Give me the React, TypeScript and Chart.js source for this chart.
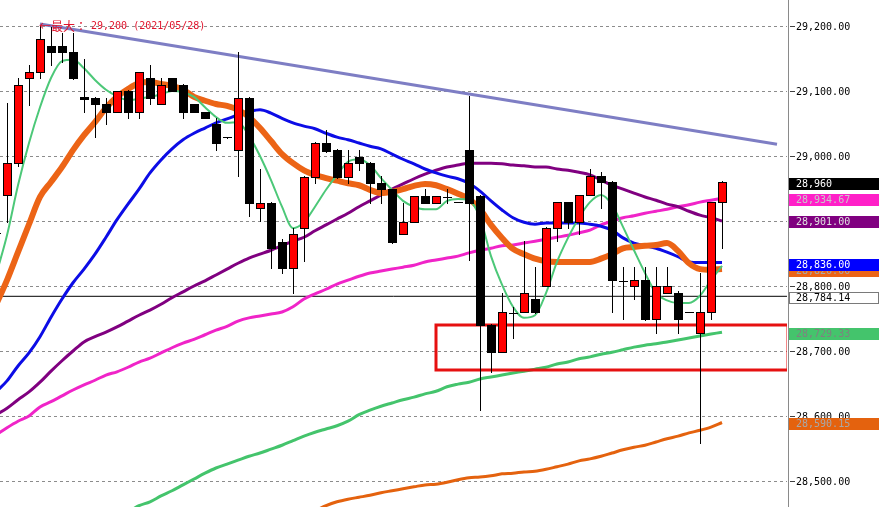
import React, { useEffect, useRef } from 'react';
import { Chart, registerables } from 'chart.js';

Chart.register(...registerables);

// ---------- data (index 0 is the bar cut off at the left edge) ----------
const opens = [28882, 28940, 28989, 29120, 29129, 29169, 29169, 29160, 29090, 29089, 29080, 29068, 29100, 29068, 29120, 29080, 29120, 29109, 29080, 29068, 29049, 29030, 29009, 29089, 28920, 28928, 28868, 28828, 28889, 28968, 29020, 29009, 28968, 28999, 28989, 28959, 28949, 28880, 28899, 28938, 28928, 28938, 28930, 29009, 28938, 28740, 28699, 28760, 28760, 28780, 28800, 28889, 28929, 28899, 28940, 28969, 28960, 28809, 28800, 28809, 28749, 28790, 28790, 28760, 28728, 28760, 28929];
const highs = [28890, 29081, 29120, 29140, 29200, 29198, 29189, 29189, 29149, 29090, 29089, 29100, 29102, 29130, 29140, 29120, 29120, 29110, 29080, 29068, 29059, 29030, 29160, 29090, 28980, 28930, 28872, 28889, 28970, 29022, 29040, 29010, 29009, 29009, 28990, 28969, 28950, 28928, 28938, 28949, 28938, 28949, 28930, 29092, 28940, 28742, 28790, 28768, 28869, 28830, 28890, 28930, 28930, 28940, 28980, 28975, 28962, 28830, 28830, 28830, 28830, 28830, 28792, 28760, 28820, 28930, 28962];
const lows = [28875, 28899, 28985, 29078, 29120, 29140, 29145, 29118, 29068, 29029, 29049, 29068, 29059, 29059, 29080, 29080, 29100, 29059, 29068, 29059, 29009, 29028, 28969, 28908, 28900, 28828, 28820, 28789, 28838, 28959, 29006, 28966, 28959, 28978, 28928, 28928, 28866, 28880, 28899, 28928, 28928, 28928, 28930, 28840, 28609, 28668, 28699, 28720, 28760, 28758, 28800, 28869, 28889, 28880, 28940, 28920, 28760, 28749, 28780, 28748, 28728, 28790, 28728, 28760, 28559, 28749, 28859];
const closes = [28882, 28989, 29109, 29129, 29180, 29160, 29160, 29120, 29088, 29080, 29068, 29100, 29068, 29129, 29089, 29109, 29100, 29068, 29068, 29059, 29020, 29029, 29089, 28928, 28928, 28859, 28828, 28880, 28968, 29020, 29008, 28968, 28989, 28989, 28959, 28949, 28868, 28899, 28938, 28928, 28938, 28937, 28930, 28928, 28740, 28699, 28760, 28759, 28789, 28760, 28889, 28929, 28899, 28940, 28969, 28960, 28809, 28808, 28809, 28749, 28800, 28800, 28749, 28760, 28760, 28929, 28960];

const maShort = [28817, 28878, 28955, 29020, 29075, 29120, 29146, 29148, 29135, 29117, 29102, 29092, 29086, 29088, 29091, 29095, 29100, 29098, 29091, 29075, 29060, 29051, 29052, 29031, 29000, 28963, 28922, 28889, 28898, 28922, 28948, 28971, 28991, 28995, 28986, 28966, 28948, 28931, 28922, 28918, 28918, 28931, 28934, 28932, 28905, 28846, 28802, 28768, 28751, 28755, 28789, 28837, 28874, 28905, 28929, 28940, 28925, 28891, 28855, 28820, 28789, 28778, 28774, 28774, 28785, 28809, 28831];
const maOrange = [28771, 28809, 28852, 28895, 28937, 28960, 28983, 29009, 29032, 29052, 29074, 29091, 29103, 29112, 29114, 29111, 29108, 29102, 29091, 29085, 29080, 29077, 29071, 29060, 29043, 29023, 29003, 28989, 28978, 28971, 28966, 28962, 28958, 28955, 28948, 28943, 28945, 28949, 28954, 28957, 28955, 28949, 28942, 28934, 28918, 28894, 28874, 28857, 28849, 28842, 28838, 28837, 28837, 28837, 28837, 28842, 28849, 28858, 28860, 28862, 28863, 28866, 28854, 28835, 28826, 28825, 28826];
const maBlue = [28637, 28654, 28677, 28697, 28722, 28752, 28780, 28805, 28826, 28849, 28875, 28902, 28926, 28949, 28974, 28994, 29011, 29025, 29035, 29043, 29051, 29057, 29063, 29068, 29071, 29066, 29058, 29051, 29046, 29042, 29035, 29029, 29025, 29020, 29015, 29011, 29003, 28995, 28988, 28980, 28974, 28969, 28965, 28958, 28946, 28931, 28917, 28905, 28898, 28895, 28897, 28897, 28897, 28897, 28895, 28892, 28886, 28874, 28866, 28862, 28858, 28852, 28845, 28837, 28836, 28836, 28836];
const maPurple = [28602, 28612, 28625, 28637, 28652, 28669, 28685, 28700, 28714, 28722, 28729, 28737, 28746, 28755, 28763, 28772, 28782, 28791, 28800, 28808, 28817, 28826, 28835, 28843, 28849, 28855, 28862, 28869, 28875, 28885, 28894, 28903, 28912, 28922, 28931, 28940, 28949, 28957, 28965, 28972, 28978, 28983, 28986, 28989, 28989, 28989, 28988, 28986, 28985, 28983, 28983, 28980, 28978, 28975, 28971, 28963, 28955, 28949, 28943, 28937, 28932, 28926, 28922, 28915, 28909, 28905, 28900];
const maMagenta = [28571, 28582, 28592, 28600, 28614, 28622, 28631, 28640, 28648, 28655, 28663, 28668, 28675, 28683, 28689, 28697, 28705, 28712, 28718, 28725, 28732, 28738, 28746, 28751, 28754, 28757, 28760, 28768, 28780, 28788, 28795, 28803, 28809, 28815, 28820, 28823, 28826, 28829, 28832, 28837, 28840, 28843, 28846, 28851, 28855, 28858, 28862, 28863, 28866, 28869, 28872, 28875, 28878, 28882, 28886, 28894, 28900, 28905, 28908, 28912, 28915, 28918, 28922, 28925, 28929, 28932, 28935];
const maGreen = [null, null, null, null, null, null, null, null, null, null, null, null, 28452, 28462, 28468, 28477, 28485, 28494, 28503, 28512, 28520, 28526, 28532, 28538, 28543, 28549, 28555, 28562, 28569, 28575, 28580, 28585, 28592, 28602, 28609, 28615, 28620, 28625, 28629, 28634, 28638, 28645, 28649, 28652, 28657, 28660, 28663, 28666, 28669, 28672, 28675, 28680, 28683, 28688, 28691, 28695, 28698, 28702, 28706, 28709, 28711, 28714, 28717, 28720, 28723, 28726, 28729];
const maLong = [null, null, null, null, null, null, null, null, null, null, null, null, null, null, null, null, null, null, null, null, null, null, null, null, null, null, null, null, null, 28454, 28462, 28468, 28472, 28475, 28478, 28482, 28485, 28488, 28491, 28494, 28495, 28498, 28502, 28505, 28506, 28508, 28511, 28512, 28514, 28515, 28518, 28522, 28526, 28531, 28534, 28538, 28543, 28548, 28552, 28555, 28560, 28565, 28569, 28574, 28578, 28583, 28590];

const yTicks = [28500, 28600, 28700, 28800, 28900, 29000, 29100, 29200];
const Y_MIN = 28460;
const Y_MAX = 29240;

const trendIdx = [4, 71];
const trendVal = [29203, 29018];
const refLevel = 28784.14;
const zoneIdx = [40, 72];
const zoneVal = [28671, 28740];

const maxIdx = 4;
const maxVal = 29200;
const maxLabelCjk = '←最大：';
const maxLabelRest = '29,200 (2021/05/28)';

const tagValues = [28590.15, 28729.33, 28784.14, 28826.0, 28836.0, 28901.0, 28934.67, 28960];
const tagDecimals = [2, 2, 2, 2, 2, 2, 2, 0];

// ---------- styles ----------
const C_SHORT = '#4cc878';
const C_ORANGE = '#ec6416';
const C_BLUE = '#0c0ce6';
const C_PURPLE = '#800080';
const C_MAGENTA = '#f024c8';
const C_GREEN = '#44c46c';
const C_LONG = '#e4620e';
const tagBg = [C_LONG, C_GREEN, '#ffffff', C_ORANGE, '#0000ff', C_PURPLE, '#ff20c8', '#000000'];
const tagFg = ['#a8a8a8', '#808080', '#000000', '#a8a8a8', '#ffffff', '#e0e0e0', '#c8c8c8', '#ffffff'];

const X_MIN = 4 / 11;
const X_MAX = 791 / 11;
const MONO = '10px "DejaVu Sans Mono", monospace';

function fmt(v: number, d: number) {
  return v.toLocaleString('en-US', { minimumFractionDigits: d, maximumFractionDigits: d });
}

const toPts = (arr: (number | null)[]) => arr.map((v, i) => ({ x: i, y: v }));

const overlay = {
  id: 'overlay',
  beforeDatasetsDraw(chart: any) {
    const { ctx, chartArea: a, scales } = chart;
    const y = scales.y;
    ctx.save();
    ctx.strokeStyle = '#8c8c8c';
    ctx.lineWidth = 1;
    ctx.setLineDash([3, 3]);
    for (const t of yTicks) {
      const py = Math.round(y.getPixelForValue(t)) + 0.5;
      ctx.beginPath();
      ctx.moveTo(a.left, py);
      ctx.lineTo(a.right, py);
      ctx.stroke();
    }
    ctx.restore();
  },
  afterDatasetsDraw(chart: any) {
    const { ctx, chartArea: a, scales } = chart;
    const x = scales.x;
    const y = scales.y;
    ctx.save();
    ctx.beginPath();
    ctx.rect(a.left, a.top, a.right - a.left, a.bottom - a.top);
    ctx.clip();

    // zone rectangle
    const zx0 = x.getPixelForValue(zoneIdx[0]);
    const zx1 = x.getPixelForValue(zoneIdx[1]);
    const zy0 = Math.round(y.getPixelForValue(zoneVal[1]));
    const zy1 = Math.round(y.getPixelForValue(zoneVal[0]));
    ctx.strokeStyle = '#e61010';
    ctx.lineWidth = 3;
    ctx.strokeRect(zx0, zy0, zx1 - zx0, zy1 - zy0);

    // candles
    for (let i = 0; i < opens.length; i++) {
      const cx = Math.round(x.getPixelForValue(i));
      const yo = Math.round(y.getPixelForValue(opens[i]));
      const yc = Math.round(y.getPixelForValue(closes[i]));
      const yh = Math.round(y.getPixelForValue(highs[i]));
      const yl = Math.round(y.getPixelForValue(lows[i]));
      ctx.fillStyle = '#000000';
      ctx.fillRect(cx, yh, 1, yl - yh + 1);
      const top = Math.min(yo, yc);
      const bot = Math.max(yo, yc);
      if (bot - top < 2) {
        ctx.fillRect(cx - 4, Math.round((yo + yc) / 2), 9, 1);
        continue;
      }
      ctx.fillRect(cx - 4, top, 9, bot - top + 1);
      if (closes[i] > opens[i]) {
        ctx.fillStyle = '#ff0000';
        ctx.fillRect(cx - 3, top + 1, 7, bot - top - 1);
      }
    }
    ctx.restore();
  },
  afterDraw(chart: any) {
    const { ctx, chartArea: a, scales } = chart;
    const x = scales.x;
    const y = scales.y;
    ctx.save();
    // axis line
    ctx.fillStyle = '#8a8a8a';
    ctx.fillRect(Math.round(a.right) + 1, 0, 1, chart.height);
    // tick labels
    ctx.font = MONO;
    ctx.textBaseline = 'middle';
    ctx.textAlign = 'left';
    for (const t of yTicks) {
      const py = Math.round(y.getPixelForValue(t));
      ctx.fillStyle = '#404040';
      ctx.fillRect(Math.round(a.right) + 3, py, 5, 1);
      ctx.fillStyle = '#000000';
      ctx.fillText(fmt(t, 2), Math.round(a.right) + 9, py + 1);
    }
    // value tags
    for (let k = 0; k < tagValues.length; k++) {
      const py = y.getPixelForValue(tagValues[k]);
      const top = Math.round(py - 4);
      const bx = Math.round(a.right) + 2;
      ctx.fillStyle = tagBg[k];
      ctx.fillRect(bx, top, 90, 12);
      if (tagBg[k] === '#ffffff') {
        ctx.strokeStyle = '#7a7a7a';
        ctx.lineWidth = 1;
        ctx.strokeRect(bx + 0.5, top + 0.5, 89, 11);
      }
      ctx.fillStyle = tagFg[k];
      ctx.fillText(fmt(tagValues[k], tagDecimals[k]), bx + 7, top + 6.5);
    }
    // max annotation
    const mx = x.getPixelForValue(maxIdx);
    const my = y.getPixelForValue(maxVal);
    ctx.fillStyle = '#e0142c';
    ctx.font = '12px "Noto Sans CJK JP", sans-serif';
    ctx.fillText(maxLabelCjk, mx - 1, my);
    ctx.font = MONO;
    ctx.fillText(maxLabelRest, mx + 51, my + 0.5);
    ctx.restore();
  },
};

export default function App() {
  const ref = useRef<HTMLCanvasElement | null>(null);
  useEffect(() => {
    const canvas = ref.current;
    if (!canvas) return;
    const line = (data: any[], color: string, width: number) => ({
      type: 'line',
      data,
      borderColor: color,
      borderWidth: width,
      pointRadius: 0,
      fill: false,
      cubicInterpolationMode: 'monotone',
      clip: 0,
    });
    const chart = new Chart(canvas, {
      type: 'line',
      data: {
        datasets: [
          line(toPts(maShort), C_SHORT, 2),
          line(toPts(maOrange), C_ORANGE, 6),
          line(toPts(maBlue), C_BLUE, 3),
          line(toPts(maPurple), C_PURPLE, 3),
          line(toPts(maMagenta), C_MAGENTA, 3),
          line(toPts(maGreen), C_GREEN, 3),
          line(toPts(maLong), C_LONG, 3),
          line(
            trendIdx.map((v, i) => ({ x: v, y: trendVal[i] })),
            '#7e7ec4',
            3
          ),
          line(
            [
              { x: X_MIN, y: refLevel },
              { x: X_MAX, y: refLevel },
            ],
            '#000000',
            1
          ),
        ] as any,
      },
      options: {
        animation: false,
        responsive: false,
        devicePixelRatio: 1,
        events: [],
        layout: { padding: { left: 0, right: 94, top: 0, bottom: 0 } },
        plugins: { legend: { display: false }, tooltip: { enabled: false } },
        scales: {
          x: { type: 'linear', min: X_MIN, max: X_MAX, display: false },
          y: { type: 'linear', min: Y_MIN, max: Y_MAX, display: false },
        },
      } as any,
      plugins: [overlay],
    });
    return () => chart.destroy();
  }, []);
  return (
    <div style={{ position: 'fixed', left: 0, top: 0, width: 881, height: 507, background: '#ffffff' }}>
      <canvas ref={ref} width={881} height={507} style={{ display: 'block' }} />
    </div>
  );
}
